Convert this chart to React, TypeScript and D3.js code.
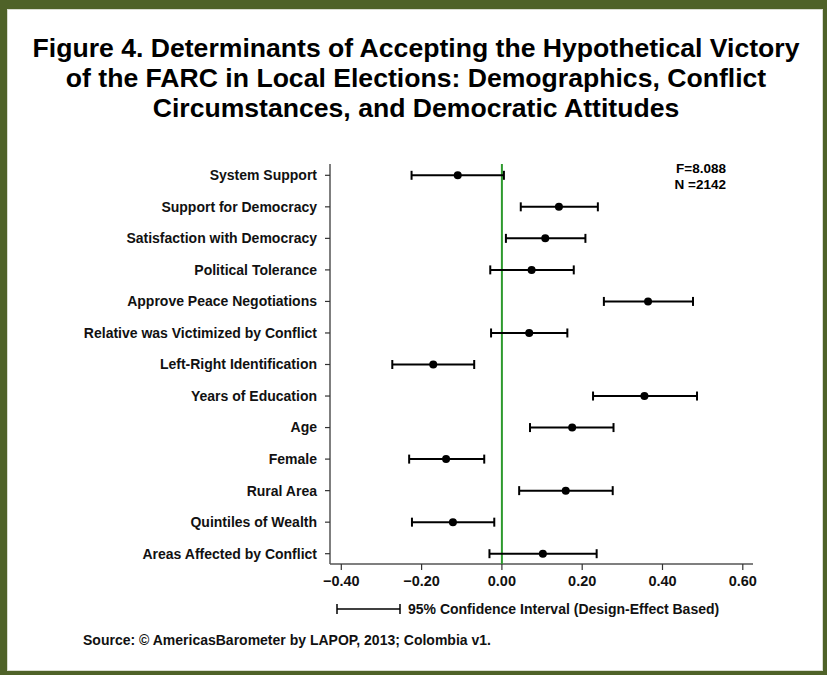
import React from "react";
import * as d3 from "d3";

const categories = [
  "System Support",
  "Support for Democracy",
  "Satisfaction with Democracy",
  "Political Tolerance",
  "Approve Peace Negotiations",
  "Relative was Victimized by Conflict",
  "Left-Right Identification",
  "Years of Education",
  "Age",
  "Female",
  "Rural Area",
  "Quintiles of Wealth",
  "Areas Affected by Conflict",
];
const estimates = [-0.11, 0.142, 0.108, 0.074, 0.364, 0.068, -0.171, 0.355, 0.175, -0.139, 0.159, -0.122, 0.102];
const lowerCI = [-0.225, 0.047, 0.01, -0.029, 0.254, -0.027, -0.273, 0.227, 0.07, -0.231, 0.043, -0.224, -0.031];
const upperCI = [0.005, 0.239, 0.208, 0.179, 0.476, 0.163, -0.069, 0.486, 0.278, -0.044, 0.276, -0.019, 0.236];
const xTicks = [-0.4, -0.2, 0, 0.2, 0.4, 0.6];
const titleLines = [
  "Figure 4. Determinants of Accepting the Hypothetical Victory",
  "of the FARC in Local Elections: Demographics, Conflict",
  "Circumstances, and Democratic Attitudes",
];
const statLines = ["F=8.088", "N =2142"];
const legendText = "95% Confidence Interval (Design-Effect Based)";
const sourceText = "Source: \u00A9 AmericasBarometer by LAPOP, 2013; Colombia v1.";

const W = 827;
const H = 675;
const FONT = "'Liberation Sans', Arial, Helvetica, sans-serif";

export default function App() {
  const x = d3.scaleLinear().domain([-0.4, 0.6]).range([341.3, 742.8]);
  const y = d3.scalePoint<string>().domain(categories).range([175.3, 553.7]);
  const axisLeft = 330;
  const axisBottom = 564;
  const axisTop = 164;
  const axisRight = 753;
  const cap = 4.5;

  return (
    <div style={{ position: "absolute", left: 0, top: 0 }}>
      <svg width={W} height={H} style={{ display: "block" }} fontFamily={FONT}>
        <rect x={0} y={0} width={W} height={H} fill="#4f6228" />
        <rect x={7} y={9} width={816} height={662} fill="#d9dccf" />
        <rect x={8} y={10} width={814} height={660} fill="#ffffff" />

        {titleLines.map((t, i) => (
          <text
            key={i}
            x={416}
            y={57 + i * 30}
            textAnchor="middle"
            fontSize={26.6}
            fontWeight="bold"
            fill="#000"
          >
            {t}
          </text>
        ))}

        {/* axes */}
        <line x1={axisLeft} x2={axisLeft} y1={axisTop} y2={axisBottom} stroke="#555" strokeWidth={1.5} />
        <line x1={axisLeft} x2={axisRight} y1={axisBottom} y2={axisBottom} stroke="#555" strokeWidth={1.5} />

        {categories.map((c) => (
          <g key={c}>
            <line x1={axisLeft - 5} x2={axisLeft} y1={y(c)} y2={y(c)} stroke="#333" strokeWidth={1.2} />
            <text
              x={axisLeft - 13}
              y={y(c)}
              dy="0.35em"
              textAnchor="end"
              fontSize={14}
              fontWeight="bold"
              fill="#111"
            >
              {c}
            </text>
          </g>
        ))}

        {xTicks.map((t) => (
          <g key={t}>
            <line x1={x(t)} x2={x(t)} y1={axisBottom} y2={axisBottom + 6} stroke="#333" strokeWidth={1.2} />
            <text x={x(t)} y={axisBottom + 22} textAnchor="middle" fontSize={14.5} fontWeight="bold" fill="#111">
              {d3.format(".2f")(t)}
            </text>
          </g>
        ))}

        {/* zero reference line */}
        <line x1={x(0)} x2={x(0)} y1={axisTop} y2={axisBottom} stroke="#2e9a2e" strokeWidth={2} />

        {/* error bars */}
        {categories.map((c, i) => {
          const yy = y(c) as number;
          return (
            <g key={c}>
              <line x1={x(lowerCI[i])} x2={x(upperCI[i])} y1={yy} y2={yy} stroke="#000" strokeWidth={2} />
              <line x1={x(lowerCI[i])} x2={x(lowerCI[i])} y1={yy - cap} y2={yy + cap} stroke="#000" strokeWidth={2} />
              <line x1={x(upperCI[i])} x2={x(upperCI[i])} y1={yy - cap} y2={yy + cap} stroke="#000" strokeWidth={2} />
              <circle cx={x(estimates[i])} cy={yy} r={4} fill="#000" />
            </g>
          );
        })}

        {statLines.map((s, i) => (
          <text key={s} x={726} y={173 + i * 15.5} textAnchor="end" fontSize={13.5} fontWeight="bold" fill="#000">
            {s}
          </text>
        ))}

        {/* legend */}
        <line x1={337} x2={400} y1={609} y2={609} stroke="#000" strokeWidth={1.5} />
        <line x1={337} x2={337} y1={604} y2={614} stroke="#000" strokeWidth={1.5} />
        <line x1={400} x2={400} y1={604} y2={614} stroke="#000" strokeWidth={1.5} />
        <text x={408} y={614} fontSize={14} fontWeight="bold" fill="#111">
          {legendText}
        </text>

        <text x={83} y={645} fontSize={14} fontWeight="bold" fill="#111">
          {sourceText}
        </text>
      </svg>
    </div>
  );
}
